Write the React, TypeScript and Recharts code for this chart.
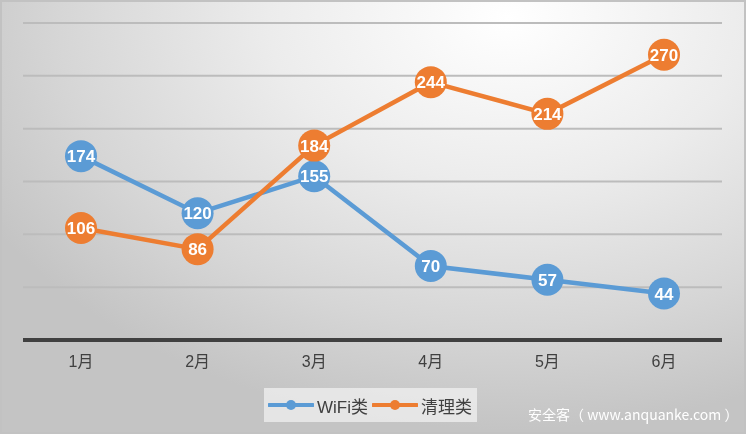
import { LineChart, Line, XAxis, YAxis, CartesianGrid, LabelList } from "recharts";

/* ---------- DATA ---------- */
const months = ["1月", "2月", "3月", "4月", "5月", "6月"];
const wifi = [174, 120, 155, 70, 57, 44];
const cleaner = [106, 86, 184, 244, 214, 270];
const yTicks = [0, 50, 100, 150, 200, 250, 300];

const data = months.map((m, i) => ({ month: m, wifi: wifi[i], cleaner: cleaner[i] }));

/* ---------- COLORS ---------- */
const COLORS = {
  wifi: "#5b9bd5",
  cleaner: "#ed7d31",
  grid: "#bcbcbc",
  axis: "#404040",
};

const FONT = '"Liberation Sans", Arial, "Noto Sans CJK SC", sans-serif';

export default function App() {
  return (
    <div
      style={{
        position: "fixed",
        left: 0,
        top: 0,
        width: 746,
        height: 434,
        background:
          "radial-gradient(ellipse 80% 95% at 68% 4%, #ffffff 0%, #ececec 40%, #d6d6d6 75%, #c4c4c4 100%)",
        boxShadow: "inset 0 0 0 2px #c2c2c2",
        fontFamily: FONT,
        overflow: "hidden",
      }}
    >
      <LineChart
        width={746}
        height={434}
        data={data}
        margin={{ top: 23, right: 24, bottom: 0, left: 23 }}
      >
        <CartesianGrid vertical={false} stroke={COLORS.grid} strokeWidth={2} />
        <XAxis
          dataKey="month"
          height={94}
          padding={{ left: 58, right: 58 }}
          axisLine={{ stroke: COLORS.axis, strokeWidth: 4 }}
          tickLine={false}
          tickSize={0}
          tickMargin={16}
          tick={{ fill: "#404040", fontSize: 16, fontFamily: FONT }}
        />
        <YAxis hide domain={[0, 300]} ticks={yTicks} width={0} />

        <Line
          dataKey="wifi"
          stroke={COLORS.wifi}
          strokeWidth={4.5}
          dot={{ r: 16, fill: COLORS.wifi, stroke: "none" }}
          activeDot={false}
          isAnimationActive={false}
        >
          <LabelList
            dataKey="wifi"
            position="center"
            fill="#ffffff"
            fontSize={17}
            fontWeight="bold"
            fontFamily={FONT}
          />
        </Line>
        <Line
          dataKey="cleaner"
          stroke={COLORS.cleaner}
          strokeWidth={4.5}
          dot={{ r: 16, fill: COLORS.cleaner, stroke: "none" }}
          activeDot={false}
          isAnimationActive={false}
        >
          <LabelList
            dataKey="cleaner"
            position="center"
            fill="#ffffff"
            fontSize={17}
            fontWeight="bold"
            fontFamily={FONT}
          />
        </Line>
      </LineChart>

      {/* LEGEND */}
      <div
        style={{
          position: "absolute",
          left: 264,
          top: 388,
          width: 213,
          height: 34,
          background: "rgba(240,240,240,0.75)",
          display: "flex",
          alignItems: "center",
          fontSize: 17,
          color: "#404040",
        }}
      >
        <LegendItem color={COLORS.wifi} label="WiFi类" />
        <LegendItem color={COLORS.cleaner} label="清理类" />
      </div>

      {/* WATERMARK */}
      <div
        style={{
          position: "absolute",
          left: 528,
          top: 404,
          fontSize: 14,
          color: "#ffffff",
          fontFamily: '"Noto Sans CJK SC", "Noto Sans", sans-serif',
          whiteSpace: "nowrap",
        }}
      >
        安全客（ www.anquanke.com ）
      </div>
    </div>
  );
}

/* ---------- LEGEND ITEM ---------- */
function LegendItem({ color, label }: { color: string; label: string }) {
  return (
    <div style={{ display: "flex", alignItems: "center", marginLeft: 4 }}>
      <svg width={46} height={12}>
        <line x1={1} y1={6} x2={45} y2={6} stroke={color} strokeWidth={4} strokeLinecap="round" />
        <circle cx={23} cy={6} r={5} fill={color} />
      </svg>
      <span style={{ marginLeft: 3, fontFamily: '"Liberation Sans", "Noto Sans CJK SC", sans-serif' }}>
        {label}
      </span>
    </div>
  );
}
